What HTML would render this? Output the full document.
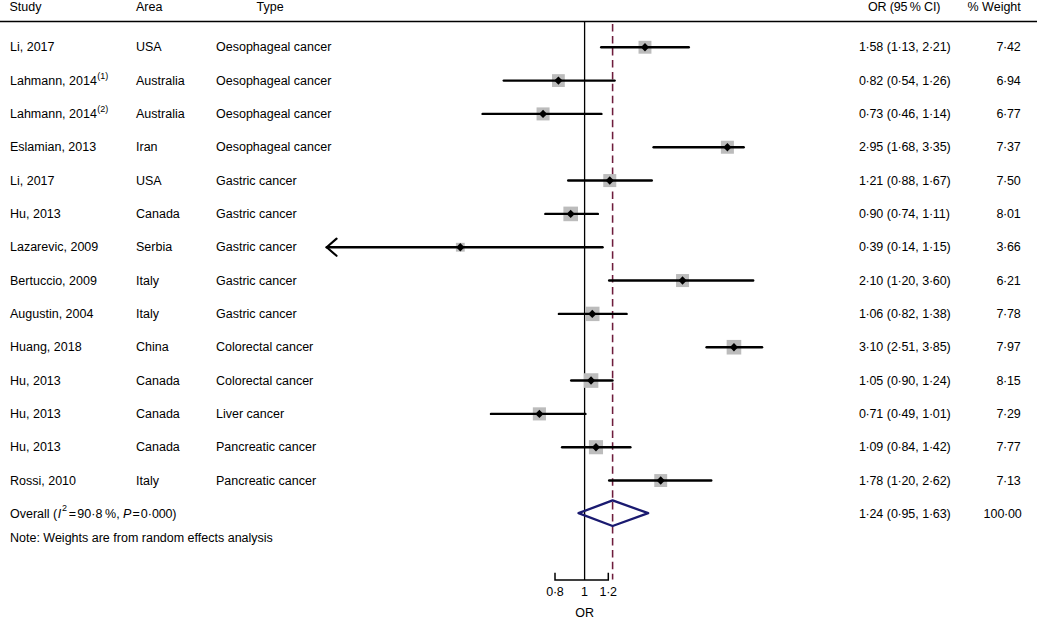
<!DOCTYPE html>
<html><head><meta charset="utf-8"><style>
html,body{margin:0;padding:0;background:#fff;}
body{width:1037px;height:620px;overflow:hidden;}
svg{display:block;}
text{font-family:"Liberation Sans",sans-serif;font-size:12.5px;fill:#000;}
.s{font-size:9px;}
</style></head><body>
<svg width="1037" height="620" viewBox="0 0 1037 620">

<text x="9.5" y="10.7">Study</text>
<text x="136" y="10.7">Area</text>
<text x="256.5" y="10.7">Type</text>
<text x="868" y="10.7" letter-spacing="-0.15">OR (95 % CI)</text>
<text x="1020.8" y="10.7" text-anchor="end">% Weight</text>
<line x1="0" y1="21.6" x2="1037" y2="21.6" stroke="#000" stroke-width="1.5"/>
<line x1="612.60" y1="24.1" x2="612.60" y2="579.5" stroke="#6e1c3c" stroke-width="1.55" stroke-dasharray="7.5 4.45"/>
<line x1="584.6" y1="21.6" x2="584.6" y2="580" stroke="#000" stroke-width="1.3"/>
<text x="10" y="51.40">Li, 2017</text>
<text x="136" y="51.40">USA</text>
<text x="216" y="51.40">Oesophageal cancer</text>
<text x="859" y="51.40">1<tspan dx="-0.345">·</tspan><tspan dx="-0.345">58 (1</tspan><tspan dx="-0.345">·</tspan><tspan dx="-0.345">13, 2</tspan><tspan dx="-0.345">·</tspan><tspan dx="-0.345">21)</tspan></text>
<text x="1020.8" y="51.40" text-anchor="end">7<tspan dx="-0.345">·</tspan><tspan dx="-0.345">42</tspan></text>
<text x="10" y="84.72">Lahmann, 2014<tspan class="s" dx="0.3" dy="-6.2">(1)</tspan></text>
<text x="136" y="84.72">Australia</text>
<text x="216" y="84.72">Oesophageal cancer</text>
<text x="859" y="84.72">0<tspan dx="-0.345">·</tspan><tspan dx="-0.345">82 (0</tspan><tspan dx="-0.345">·</tspan><tspan dx="-0.345">54, 1</tspan><tspan dx="-0.345">·</tspan><tspan dx="-0.345">26)</tspan></text>
<text x="1020.8" y="84.72" text-anchor="end">6<tspan dx="-0.345">·</tspan><tspan dx="-0.345">94</tspan></text>
<text x="10" y="118.04">Lahmann, 2014<tspan class="s" dx="0.3" dy="-6.2">(2)</tspan></text>
<text x="136" y="118.04">Australia</text>
<text x="216" y="118.04">Oesophageal cancer</text>
<text x="859" y="118.04">0<tspan dx="-0.345">·</tspan><tspan dx="-0.345">73 (0</tspan><tspan dx="-0.345">·</tspan><tspan dx="-0.345">46, 1</tspan><tspan dx="-0.345">·</tspan><tspan dx="-0.345">14)</tspan></text>
<text x="1020.8" y="118.04" text-anchor="end">6<tspan dx="-0.345">·</tspan><tspan dx="-0.345">77</tspan></text>
<text x="10" y="151.36">Eslamian, 2013</text>
<text x="136" y="151.36">Iran</text>
<text x="216" y="151.36">Oesophageal cancer</text>
<text x="859" y="151.36">2<tspan dx="-0.345">·</tspan><tspan dx="-0.345">95 (1</tspan><tspan dx="-0.345">·</tspan><tspan dx="-0.345">68, 3</tspan><tspan dx="-0.345">·</tspan><tspan dx="-0.345">35)</tspan></text>
<text x="1020.8" y="151.36" text-anchor="end">7<tspan dx="-0.345">·</tspan><tspan dx="-0.345">37</tspan></text>
<text x="10" y="184.68">Li, 2017</text>
<text x="136" y="184.68">USA</text>
<text x="216" y="184.68">Gastric cancer</text>
<text x="859" y="184.68">1<tspan dx="-0.345">·</tspan><tspan dx="-0.345">21 (0</tspan><tspan dx="-0.345">·</tspan><tspan dx="-0.345">88, 1</tspan><tspan dx="-0.345">·</tspan><tspan dx="-0.345">67)</tspan></text>
<text x="1020.8" y="184.68" text-anchor="end">7<tspan dx="-0.345">·</tspan><tspan dx="-0.345">50</tspan></text>
<text x="10" y="218.00">Hu, 2013</text>
<text x="136" y="218.00">Canada</text>
<text x="216" y="218.00">Gastric cancer</text>
<text x="859" y="218.00">0<tspan dx="-0.345">·</tspan><tspan dx="-0.345">90 (0</tspan><tspan dx="-0.345">·</tspan><tspan dx="-0.345">74, 1</tspan><tspan dx="-0.345">·</tspan><tspan dx="-0.345">11)</tspan></text>
<text x="1020.8" y="218.00" text-anchor="end">8<tspan dx="-0.345">·</tspan><tspan dx="-0.345">01</tspan></text>
<text x="10" y="251.32">Lazarevic, 2009</text>
<text x="136" y="251.32">Serbia</text>
<text x="216" y="251.32">Gastric cancer</text>
<text x="859" y="251.32">0<tspan dx="-0.345">·</tspan><tspan dx="-0.345">39 (0</tspan><tspan dx="-0.345">·</tspan><tspan dx="-0.345">14, 1</tspan><tspan dx="-0.345">·</tspan><tspan dx="-0.345">15)</tspan></text>
<text x="1020.8" y="251.32" text-anchor="end">3<tspan dx="-0.345">·</tspan><tspan dx="-0.345">66</tspan></text>
<text x="10" y="284.64">Bertuccio, 2009</text>
<text x="136" y="284.64">Italy</text>
<text x="216" y="284.64">Gastric cancer</text>
<text x="859" y="284.64">2<tspan dx="-0.345">·</tspan><tspan dx="-0.345">10 (1</tspan><tspan dx="-0.345">·</tspan><tspan dx="-0.345">20, 3</tspan><tspan dx="-0.345">·</tspan><tspan dx="-0.345">60)</tspan></text>
<text x="1020.8" y="284.64" text-anchor="end">6<tspan dx="-0.345">·</tspan><tspan dx="-0.345">21</tspan></text>
<text x="10" y="317.96">Augustin, 2004</text>
<text x="136" y="317.96">Italy</text>
<text x="216" y="317.96">Gastric cancer</text>
<text x="859" y="317.96">1<tspan dx="-0.345">·</tspan><tspan dx="-0.345">06 (0</tspan><tspan dx="-0.345">·</tspan><tspan dx="-0.345">82, 1</tspan><tspan dx="-0.345">·</tspan><tspan dx="-0.345">38)</tspan></text>
<text x="1020.8" y="317.96" text-anchor="end">7<tspan dx="-0.345">·</tspan><tspan dx="-0.345">78</tspan></text>
<text x="10" y="351.28">Huang, 2018</text>
<text x="136" y="351.28">China</text>
<text x="216" y="351.28">Colorectal cancer</text>
<text x="859" y="351.28">3<tspan dx="-0.345">·</tspan><tspan dx="-0.345">10 (2</tspan><tspan dx="-0.345">·</tspan><tspan dx="-0.345">51, 3</tspan><tspan dx="-0.345">·</tspan><tspan dx="-0.345">85)</tspan></text>
<text x="1020.8" y="351.28" text-anchor="end">7<tspan dx="-0.345">·</tspan><tspan dx="-0.345">97</tspan></text>
<text x="10" y="384.60">Hu, 2013</text>
<text x="136" y="384.60">Canada</text>
<text x="216" y="384.60">Colorectal cancer</text>
<text x="859" y="384.60">1<tspan dx="-0.345">·</tspan><tspan dx="-0.345">05 (0</tspan><tspan dx="-0.345">·</tspan><tspan dx="-0.345">90, 1</tspan><tspan dx="-0.345">·</tspan><tspan dx="-0.345">24)</tspan></text>
<text x="1020.8" y="384.60" text-anchor="end">8<tspan dx="-0.345">·</tspan><tspan dx="-0.345">15</tspan></text>
<text x="10" y="417.92">Hu, 2013</text>
<text x="136" y="417.92">Canada</text>
<text x="216" y="417.92">Liver cancer</text>
<text x="859" y="417.92">0<tspan dx="-0.345">·</tspan><tspan dx="-0.345">71 (0</tspan><tspan dx="-0.345">·</tspan><tspan dx="-0.345">49, 1</tspan><tspan dx="-0.345">·</tspan><tspan dx="-0.345">01)</tspan></text>
<text x="1020.8" y="417.92" text-anchor="end">7<tspan dx="-0.345">·</tspan><tspan dx="-0.345">29</tspan></text>
<text x="10" y="451.24">Hu, 2013</text>
<text x="136" y="451.24">Canada</text>
<text x="216" y="451.24">Pancreatic cancer</text>
<text x="859" y="451.24">1<tspan dx="-0.345">·</tspan><tspan dx="-0.345">09 (0</tspan><tspan dx="-0.345">·</tspan><tspan dx="-0.345">84, 1</tspan><tspan dx="-0.345">·</tspan><tspan dx="-0.345">42)</tspan></text>
<text x="1020.8" y="451.24" text-anchor="end">7<tspan dx="-0.345">·</tspan><tspan dx="-0.345">77</tspan></text>
<text x="10" y="484.56">Rossi, 2010</text>
<text x="136" y="484.56">Italy</text>
<text x="216" y="484.56">Pancreatic cancer</text>
<text x="859" y="484.56">1<tspan dx="-0.345">·</tspan><tspan dx="-0.345">78 (1</tspan><tspan dx="-0.345">·</tspan><tspan dx="-0.345">20, 2</tspan><tspan dx="-0.345">·</tspan><tspan dx="-0.345">62)</tspan></text>
<text x="1020.8" y="484.56" text-anchor="end">7<tspan dx="-0.345">·</tspan><tspan dx="-0.345">13</tspan></text>
<rect x="638.53" y="40.80" width="12.90" height="12.90" fill="#bcbcbc"/>
<rect x="552.00" y="74.18" width="12.80" height="12.80" fill="#bcbcbc"/>
<rect x="536.56" y="107.41" width="13.00" height="13.00" fill="#bcbcbc"/>
<rect x="720.90" y="140.74" width="13.00" height="13.00" fill="#bcbcbc"/>
<rect x="603.26" y="174.07" width="13.00" height="13.00" fill="#bcbcbc"/>
<rect x="563.39" y="206.60" width="14.60" height="14.60" fill="#bcbcbc"/>
<rect x="455.91" y="242.83" width="8.80" height="8.80" fill="#bcbcbc"/>
<rect x="676.04" y="274.06" width="13.00" height="13.00" fill="#bcbcbc"/>
<rect x="585.09" y="306.69" width="14.40" height="14.40" fill="#bcbcbc"/>
<rect x="726.65" y="339.92" width="14.60" height="14.60" fill="#bcbcbc"/>
<rect x="583.74" y="373.25" width="14.60" height="14.60" fill="#bcbcbc"/>
<rect x="532.84" y="407.33" width="13.10" height="13.10" fill="#bcbcbc"/>
<rect x="588.93" y="440.16" width="14.10" height="14.10" fill="#bcbcbc"/>
<rect x="654.26" y="474.09" width="12.90" height="12.90" fill="#bcbcbc"/>
<line x1="601.23" y1="47.25" x2="688.78" y2="47.25" stroke="#000" stroke-width="2.4" stroke-linecap="round"/>
<polygon points="640.88,47.25 644.98,43.05 649.08,47.25 644.98,51.45" fill="#000"/>
<line x1="503.76" y1="80.58" x2="614.61" y2="80.58" stroke="#000" stroke-width="2.4" stroke-linecap="round"/>
<polygon points="554.30,80.58 558.40,76.38 562.50,80.58 558.40,84.78" fill="#000"/>
<line x1="482.60" y1="113.91" x2="601.40" y2="113.91" stroke="#000" stroke-width="2.4" stroke-linecap="round"/>
<polygon points="538.96,113.91 543.06,109.71 547.16,113.91 543.06,118.11" fill="#000"/>
<line x1="653.58" y1="147.24" x2="743.68" y2="147.24" stroke="#000" stroke-width="2.4" stroke-linecap="round"/>
<polygon points="723.30,147.24 727.40,143.04 731.50,147.24 727.40,151.44" fill="#000"/>
<line x1="568.23" y1="180.57" x2="651.79" y2="180.57" stroke="#000" stroke-width="2.4" stroke-linecap="round"/>
<polygon points="605.66,180.57 609.76,176.37 613.86,180.57 609.76,184.77" fill="#000"/>
<line x1="545.35" y1="213.90" x2="597.88" y2="213.90" stroke="#000" stroke-width="2.4" stroke-linecap="round"/>
<polygon points="566.59,213.90 570.69,209.70 574.79,213.90 570.69,218.10" fill="#000"/>
<line x1="326.67" y1="247.23" x2="602.55" y2="247.23" stroke="#000" stroke-width="2.4" stroke-linecap="round"/>
<polyline points="336.57,238.63 326.67,247.23 336.57,255.83" fill="none" stroke="#000" stroke-width="2.1" stroke-linejoin="round" stroke-linecap="round"/>
<polygon points="456.21,247.23 460.31,243.03 464.41,247.23 460.31,251.43" fill="#000"/>
<line x1="609.17" y1="280.56" x2="753.18" y2="280.56" stroke="#000" stroke-width="2.4" stroke-linecap="round"/>
<polygon points="678.44,280.56 682.54,276.36 686.64,280.56 682.54,284.76" fill="#000"/>
<line x1="558.90" y1="313.89" x2="626.62" y2="313.89" stroke="#000" stroke-width="2.4" stroke-linecap="round"/>
<polygon points="588.19,313.89 592.29,309.69 596.39,313.89 592.29,318.09" fill="#000"/>
<line x1="706.58" y1="347.22" x2="762.05" y2="347.22" stroke="#000" stroke-width="2.4" stroke-linecap="round"/>
<polygon points="729.85,347.22 733.95,343.02 738.05,347.22 733.95,351.42" fill="#000"/>
<line x1="571.19" y1="380.55" x2="612.49" y2="380.55" stroke="#000" stroke-width="2.4" stroke-linecap="round"/>
<polygon points="586.94,380.55 591.04,376.35 595.14,380.55 591.04,384.75" fill="#000"/>
<line x1="490.94" y1="413.88" x2="585.41" y2="413.88" stroke="#000" stroke-width="2.4" stroke-linecap="round"/>
<polygon points="535.29,413.88 539.39,409.68 543.49,413.88 539.39,418.08" fill="#000"/>
<line x1="562.09" y1="447.21" x2="630.39" y2="447.21" stroke="#000" stroke-width="2.4" stroke-linecap="round"/>
<polygon points="591.88,447.21 595.98,443.01 600.08,447.21 595.98,451.41" fill="#000"/>
<line x1="609.17" y1="480.54" x2="711.24" y2="480.54" stroke="#000" stroke-width="2.4" stroke-linecap="round"/>
<polygon points="656.61,480.54 660.71,476.34 664.81,480.54 660.71,484.74" fill="#000"/>
<text x="10" y="517.88">Overall (<tspan font-style="italic" dx="0.6">I</tspan><tspan class="s" dx="0.8" dy="-6.7">2</tspan><tspan dx="0.7" dy="6.7"> = 90</tspan><tspan>·</tspan><tspan dx="0.3">8 %, </tspan><tspan font-style="italic">P</tspan><tspan> = 0</tspan><tspan dx="0">·</tspan><tspan dx="-0.1" letter-spacing="-0.12">000)</tspan></text>
<text x="859" y="517.88">1<tspan dx="-0.345">·</tspan><tspan dx="-0.345">24 (0</tspan><tspan dx="-0.345">·</tspan><tspan dx="-0.345">95, 1</tspan><tspan dx="-0.345">·</tspan><tspan dx="-0.345">63)</tspan></text>
<text x="1021.8" y="517.88" text-anchor="end">100<tspan dx="-0.345">·</tspan><tspan dx="-0.345">00</tspan></text>
<polygon points="578.5,513.20 612.60,500.40 648.2,513.20 612.60,526.00" fill="none" stroke="#1a1a70" stroke-width="2.3" stroke-linejoin="round"/>
<text x="10" y="541.88">Note: Weights are from random effects analysis</text>
<polyline points="555.00,572.8 555.00,580 608.30,580 608.30,572.8" fill="none" stroke="#000" stroke-width="1.5"/>
<text x="555.00" y="595.6" text-anchor="middle">0<tspan dx="-0.345">·</tspan><tspan dx="-0.345">8</tspan></text>
<text x="584.60" y="595.6" text-anchor="middle">1</text>
<text x="608.30" y="595.6" text-anchor="middle">1<tspan dx="-0.345">·</tspan><tspan dx="-0.345">2</tspan></text>
<text x="584.60" y="617" text-anchor="middle">OR</text>
</svg></body></html>
